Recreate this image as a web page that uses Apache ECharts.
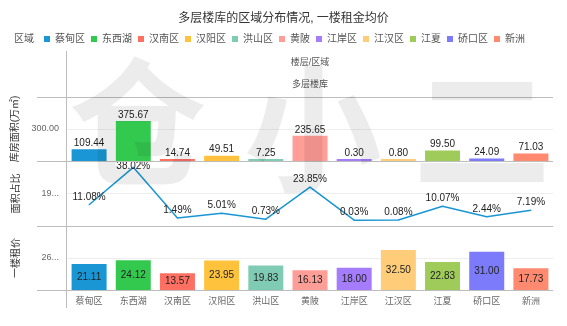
<!DOCTYPE html>
<html>
<head>
<meta charset="utf-8">
<script src="https://cdn.jsdelivr.net/npm/echarts@6/dist/echarts.min.js"></script>
<style>
html,body{margin:0;padding:0;background:#fff;}
#chart{width:567px;height:326px;}
</style>
</head>
<body>
<div id="chart"></div>
<script>
const categories = ['蔡甸区','东西湖','汉南区','汉阳区','洪山区','黄陂','江岸区','江汉区','江夏','硚口区','新洲'];
const areaValues = [109.44,375.67,14.74,49.51,7.25,235.65,0.30,0.80,99.50,24.09,71.03];
const shareValues = [11.08,38.02,1.49,5.01,0.73,23.85,0.03,0.08,10.07,2.44,7.19];
const rentValues = [21.11,24.12,13.57,23.95,19.83,16.13,18.00,32.50,22.83,31.00,17.73];
const colors = ['#1a96d4','#33c94f','#ff7063','#ffc23d','#80cbb3','#ff9d97','#a57cfb','#ffcd7a','#9fcb5a','#7b7bfc','#ff8a70'];
const lineColor = '#1a96d4';

const FONT = "'Liberation Sans','Noto Sans CJK SC',sans-serif";
const chart = echarts.init(document.getElementById('chart'), null, {renderer:'canvas'});

const GL = 67, GR = 14;
const tops = [97, 161, 226, 290];

const legendSeries = categories.map((c, i) => ({
  type: 'line', name: c, data: [], xAxisIndex: 0, yAxisIndex: 0,
  itemStyle: {color: colors[i]}, lineStyle: {color: colors[i]}
}));

function hline(y){
  return {type:'line', z:50, silent:true, shape:{x1:37, y1:y+0.5, x2:553, y2:y+0.5}, style:{stroke:'#bdbdbd', lineWidth:1}};
}
function wm(ch, x, y){
  return {type:'text', z:100, silent:true, x:x, y:y, style:{text:ch, font:'bold 138px "Noto Sans CJK SC"', fill:'rgba(0,0,0,0.075)', align:'center', verticalAlign:'middle'}};
}

const yLabel = {color:'#666', fontSize:9, fontFamily:FONT, showMinLabel:false, showMaxLabel:false};
const yName = {color:'#333', fontSize:10, fontFamily:FONT};

const option = {
  animation: false,
  textStyle: {fontFamily: FONT},
  title: [
    {text:'多层楼库的区域分布情况, 一楼租金均价', left:'center', top:13, padding:0, textStyle:{fontSize:12, fontWeight:'normal', color:'#333', fontFamily:FONT}},
    {text:'区域', left:14, top:34, padding:0, textStyle:{fontSize:10, fontWeight:'normal', color:'#555', fontFamily:FONT}},
    {text:'楼层/区域', left:310, textAlign:'center', top:58, padding:0, textStyle:{fontSize:9, fontWeight:'normal', color:'#555', fontFamily:FONT}},
    {text:'多层楼库', left:310, textAlign:'center', top:80, padding:0, textStyle:{fontSize:9, fontWeight:'normal', color:'#555', fontFamily:FONT}}
  ],
  legend: {
    data: categories, icon:'rect', itemWidth:6, itemHeight:6, itemGap:6, left:44, top:34, padding:0,
    textStyle:{fontSize:10, color:'#555', fontFamily:FONT}
  },
  grid: [
    {left:GL, right:GR, top:tops[0], height:tops[1]-tops[0]},
    {left:GL, right:GR, top:tops[1], height:tops[2]-tops[1]},
    {left:GL, right:GR, top:tops[2], height:tops[3]-tops[2]}
  ],
  xAxis: [0,1,2].map(i => ({
    type:'category', gridIndex:i, data:categories, boundaryGap:true,
    axisLine:{show:false}, axisTick:{show:false},
    axisLabel:{show:i===2, color:'#666', fontSize:9, margin:7, fontFamily:FONT, interval:0}
  })),
  yAxis: [
    {type:'value', gridIndex:0, min:0, max:600, interval:300,
     name:'库房面积(万㎡)', nameLocation:'middle', nameGap:46, nameTextStyle:yName,
     axisLine:{show:false}, axisTick:{show:false},
     axisLabel:Object.assign({}, yLabel, {formatter:v=>v.toFixed(2)}),
     splitLine:{lineStyle:{color:'#eeeeee'}, showMinLine:false, showMaxLine:false}},
    {type:'value', gridIndex:1, min:-4.2, max:42.6, interval:23.4,
     name:'面积占比', nameLocation:'middle', nameGap:46, nameTextStyle:yName,
     axisLine:{show:false}, axisTick:{show:false},
     axisLabel:Object.assign({}, yLabel, {formatter:v=>v.toFixed(2), width:20, overflow:'truncate', ellipsis:'...'}),
     splitLine:{lineStyle:{color:'#eeeeee'}, showMinLine:false, showMaxLine:false}},
    {type:'value', gridIndex:2, min:0, max:52, interval:26,
     name:'一楼租价', nameLocation:'middle', nameGap:46, nameTextStyle:yName,
     axisLine:{show:false}, axisTick:{show:false},
     axisLabel:Object.assign({}, yLabel, {formatter:v=>v.toFixed(2), width:20, overflow:'truncate', ellipsis:'...'}),
     splitLine:{lineStyle:{color:'#eeeeee'}, showMinLine:false, showMaxLine:false}}
  ],
  series: [
    {type:'bar', name:'库房面积', xAxisIndex:0, yAxisIndex:0, data:areaValues, barWidth:35, barMinHeight:2,
     itemStyle:{color:p=>colors[p.dataIndex]},
     label:{show:true, position:'top', distance:1, fontSize:10, color:'#222', fontFamily:FONT, formatter:p=>p.value.toFixed(2)}},
    {type:'line', name:'面积占比', xAxisIndex:1, yAxisIndex:1, data:shareValues, showSymbol:true, symbol:'circle', symbolSize:1,
     lineStyle:{color:lineColor, width:1.5}, itemStyle:{color:lineColor},
     label:{show:true, position:'top', distance:2, fontSize:10, color:'#222', fontFamily:FONT, formatter:p=>p.value.toFixed(2)+'%'},
     labelLayout:function(params){
       const r = params.labelRect;
       if (r.y < tops[1]) return {dy: tops[1] - r.y};
       return {};
     }},
    {type:'bar', name:'一楼租价', xAxisIndex:2, yAxisIndex:2, data:rentValues, barWidth:35,
     itemStyle:{color:p=>colors[p.dataIndex]},
     label:{show:true, position:'inside', fontSize:10, color:'#222', fontFamily:FONT, formatter:p=>p.value.toFixed(2)}}
  ].concat(legendSeries),
  graphic: [
    hline(tops[0]), hline(tops[1]), hline(tops[2]), hline(tops[3]),
    {type:'line', z:50, silent:true, shape:{x1:GL-0.5, y1:51, x2:GL-0.5, y2:308}, style:{stroke:'#bdbdbd', lineWidth:1}},
    wm('仓', 138, 122), wm('小', 313, 128), wm('二', 482, 128)
  ]
};
chart.setOption(option);
</script>
</body>
</html>
